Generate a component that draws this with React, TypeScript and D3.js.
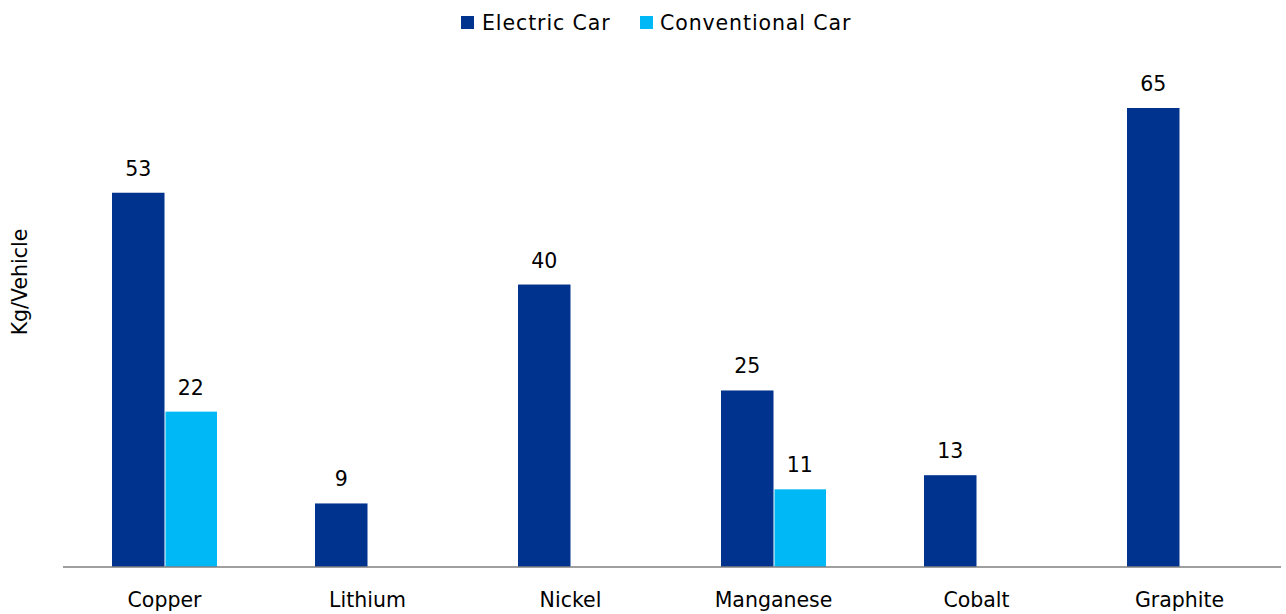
import React from "react";
import * as d3 from "d3";

const categories = ["Copper", "Lithium", "Nickel", "Manganese", "Cobalt", "Graphite"];
const seriesNames = ["Electric Car", "Conventional Car"];
const electricValues = [53, 9, 40, 25, 13, 65];
const conventionalValues: (number | null)[] = [22, null, null, 11, null, null];
const seriesColors = ["#00338D", "#00B8F5"];

const W = 1286;
const H = 614;
const margin = { left: 63, right: 5, top: 40, bottom: 47 };
const font = "'DejaVu Sans', Verdana, sans-serif";

export default function App() {
  const baseY = H - margin.bottom;
  const x0 = d3
    .scaleBand<string>()
    .domain(categories)
    .range([margin.left, W - margin.right])
    .paddingInner(0)
    .paddingOuter(0);
  const groupW = 105;
  const x1 = d3.scaleBand<string>().domain(seriesNames).range([0, groupW]).padding(0);
  const y = d3.scaleLinear().domain([0, 65]).range([baseY, baseY - 459]);

  const series = [electricValues, conventionalValues];

  return (
    <svg width={W} height={H} style={{ position: "absolute", left: 0, top: 0, background: "#fff" }}>
      <g fontFamily={font}>
        {/* legend */}
        <rect x={461} y={16} width={13} height={13} fill={seriesColors[0]} />
        <text x={482} y={30} fontSize={20.5} letterSpacing={0.9} fill="#000">{seriesNames[0]}</text>
        <rect x={640} y={16} width={13} height={13} fill={seriesColors[1]} />
        <text x={660} y={30} fontSize={20.5} letterSpacing={0.9} fill="#000">{seriesNames[1]}</text>

        {/* y-axis title */}
        <text
          transform={`translate(27, 282) rotate(-90)`}
          textAnchor="middle"
          fontSize={20.5}
          fill="#000"
        >
          Kg/Vehicle
        </text>

        {/* bars and value labels */}
        {categories.map((c, i) => {
          const gx = (x0(c) as number) + (x0.bandwidth() - groupW) / 2;
          return (
            <g key={c}>
              {series.map((vals, s) => {
                const v = vals[i];
                if (v == null) return null;
                const bx = gx + (x1(seriesNames[s]) as number);
                const bw = x1.bandwidth();
                return (
                  <g key={s}>
                    <rect
                      x={bx + (s === 1 ? 1 : 0)}
                      y={y(v)}
                      width={bw - (s === 1 ? 1 : 0)}
                      height={baseY - y(v)}
                      fill={seriesColors[s]}
                    />
                    <text
                      x={bx + bw / 2}
                      y={y(v) - 17}
                      textAnchor="middle"
                      fontSize={20.5}
                      fill="#000"
                    >
                      {v}
                    </text>
                  </g>
                );
              })}
              <text
                x={(x0(c) as number) + x0.bandwidth() / 2}
                y={607}
                textAnchor="middle"
                fontSize={20.5}
                fill="#000"
              >
                {c}
              </text>
            </g>
          );
        })}

        {/* baseline */}
        <line x1={margin.left} x2={W - margin.right} y1={baseY} y2={baseY} stroke="#7f7f7f" strokeWidth={1.5} />
      </g>
    </svg>
  );
}
